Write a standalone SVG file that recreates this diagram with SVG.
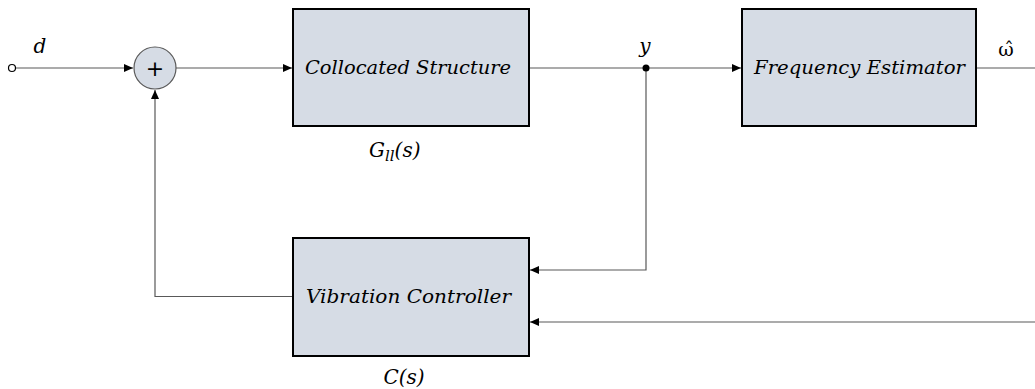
<svg xmlns="http://www.w3.org/2000/svg" width="1035" height="389" viewBox="0 0 1035 389">
  <style>
    .block { fill: #d6dce5; stroke: #000; stroke-width: 2; }
    .sum { fill: #d6dce5; stroke: #595959; stroke-width: 1.2; }
    .wire { fill: none; stroke: #595959; stroke-width: 1.2; }
    .lbl { font-family: "DejaVu Serif", serif; font-style: italic; font-size: 19px; fill: #000; }
    .sig { font-family: "DejaVu Serif", serif; font-style: italic; font-size: 20px; fill: #000; }
  </style>
  <defs>
    <marker id="arrow" markerWidth="10" markerHeight="8" refX="9" refY="4" orient="auto" markerUnits="userSpaceOnUse">
      <path d="M0,0 L9,4 L0,8 Z" fill="#000"/>
    </marker>
  </defs>
  <rect width="1035" height="389" fill="#fff"/>

  <g id="connectors">
    <!-- input d to summing junction -->
    <line class="wire" x1="15.5" y1="68" x2="133" y2="68" marker-end="url(#arrow)"/>
    <!-- sum to plant -->
    <line class="wire" x1="176" y1="68" x2="292" y2="68" marker-end="url(#arrow)"/>
    <!-- plant output y to estimator -->
    <line class="wire" x1="529" y1="68" x2="741" y2="68" marker-end="url(#arrow)"/>
    <!-- estimator output -->
    <line class="wire" x1="976" y1="68" x2="1035" y2="68"/>
    <!-- y feedback into controller -->
    <polyline class="wire" points="646,68 646,270 530,270" marker-end="url(#arrow)"/>
    <!-- frequency estimate into controller -->
    <line class="wire" x1="1035" y1="322" x2="530" y2="322" marker-end="url(#arrow)"/>
    <!-- controller output back to summing junction -->
    <polyline class="wire" points="293,296.5 155,296.5 155,90" marker-end="url(#arrow)"/>
    <circle cx="646" cy="68" r="3.5" fill="#000"/>
  </g>

  <g id="input">
    <circle cx="12" cy="68" r="3.5" fill="#fff" stroke="#000" stroke-width="1.2"/>
    <text class="sig" x="40" y="53" text-anchor="middle">d</text>
  </g>

  <g id="sum">
    <circle class="sum" cx="155" cy="68" r="21"/>
    <text x="155" y="75.5" text-anchor="middle" font-family="DejaVu Sans, sans-serif" font-size="22" fill="#000">+</text>
  </g>

  <g id="plant">
    <rect class="block" x="293" y="9" width="236" height="117"/>
    <text class="lbl" x="305" y="74" textLength="206" lengthAdjust="spacingAndGlyphs">Collocated Structure</text>
    <text class="sig" x="369" y="157">G<tspan font-size="15" dy="4">ll</tspan><tspan dy="-4">(s)</tspan></text>
  </g>

  <g id="estimator">
    <rect class="block" x="742" y="9" width="234" height="117"/>
    <text class="lbl" x="754" y="74" textLength="211" lengthAdjust="spacingAndGlyphs">Frequency Estimator</text>
    <text x="1006" y="56" text-anchor="middle" font-family="DejaVu Serif, serif" font-size="19" fill="#000">ω̂</text>
  </g>

  <g id="y-label">
    <text class="sig" x="645" y="53" text-anchor="middle">y</text>
  </g>

  <g id="controller">
    <rect class="block" x="293" y="238" width="236" height="118"/>
    <text class="lbl" x="306" y="303" textLength="205" lengthAdjust="spacingAndGlyphs">Vibration Controller</text>
    <text class="sig" x="404" y="384" text-anchor="middle">C(s)</text>
  </g>
</svg>
